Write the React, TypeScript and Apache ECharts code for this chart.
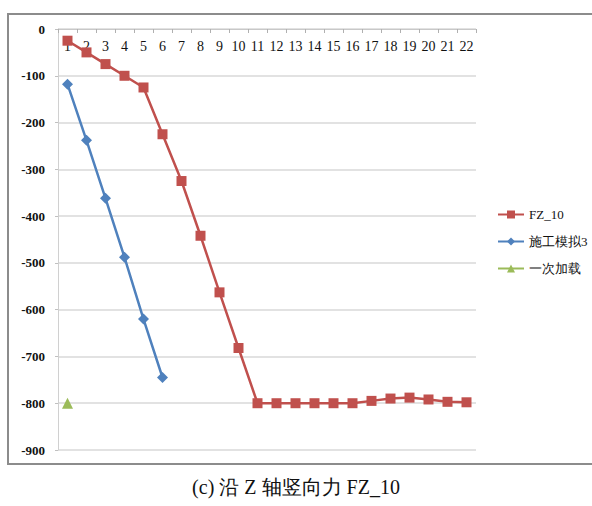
import React, { useEffect, useRef } from "react";
import * as echarts from "echarts";

const categories = ["1","2","3","4","5","6","7","8","9","10","11","12","13","14","15","16","17","18","19","20","21","22"];
const fz10 = [-25, -50, -75, -100, -125, -225, -325, -442, -563, -682, -800, -800, -800, -800, -800, -800, -795, -790, -788, -792, -797, -798];
const sim3 = [-118, -238, -362, -488, -620, -745];
const once = [-800];
const seriesNames = ["FZ_10", "施工模拟3", "一次加载"];
const caption = "(c) 沿 Z 轴竖向力 FZ_10";

const SERIF = "Liberation Serif, Times New Roman, serif";

export default function App() {
  const ref = useRef<HTMLDivElement>(null);
  useEffect(() => {
    if (!ref.current) return;
    const chart = echarts.init(ref.current, undefined, { renderer: "svg" });
    chart.setOption({
      animation: false,
      backgroundColor: "#ffffff",
      textStyle: { fontFamily: SERIF },
      grid: { left: 58, right: 116, top: 29, bottom: 56 },
      graphic: [
        {
          type: "rect",
          shape: { x: 8, y: 14, width: 600, height: 450 },
          style: { fill: "none", stroke: "#8c8c8c", lineWidth: 2 },
          z: -1,
        },
        {
          type: "text",
          left: "center",
          top: 477,
          style: { text: caption, fontFamily: SERIF, fontSize: 20, fill: "#111" },
        },
      ],
      legend: {
        orient: "vertical",
        left: 492,
        top: 203,
        itemWidth: 26,
        itemHeight: 10,
        itemGap: 14,
        textStyle: { fontFamily: SERIF, fontSize: 13, color: "#111" },
        data: seriesNames,
      },
      xAxis: {
        type: "category",
        position: "top",
        data: categories,
        boundaryGap: true,
        axisLine: { show: true, lineStyle: { color: "#c8c8c8", width: 1 } },
        axisTick: { show: true, inside: true, length: 4, lineStyle: { color: "#b0b0b0" } },
        axisLabel: { inside: true, margin: 10, fontFamily: SERIF, fontSize: 14, color: "#111", interval: 0 },
        splitLine: { show: false },
      },
      yAxis: {
        type: "value",
        min: -900,
        max: 0,
        interval: 100,
        axisLine: { show: true, lineStyle: { color: "#d0d0d0" } },
        axisTick: { show: true, length: 3, lineStyle: { color: "#c0c0c0" } },
        axisLabel: { fontFamily: SERIF, fontSize: 13, fontWeight: "bold", color: "#111", margin: 13 },
        splitLine: { show: true, lineStyle: { color: "#d9d9d9", width: 1.5 } },
      },
      series: [
        {
          name: seriesNames[0],
          type: "line",
          data: fz10,
          symbol: "rect",
          symbolSize: 10,
          itemStyle: { color: "#c0504d" },
          lineStyle: { color: "#c0504d", width: 2.5 },
        },
        {
          name: seriesNames[1],
          type: "line",
          data: sim3,
          symbol: "diamond",
          symbolSize: 11,
          itemStyle: { color: "#4f81bd" },
          lineStyle: { color: "#4f81bd", width: 2.5 },
        },
        {
          name: seriesNames[2],
          type: "line",
          data: once,
          symbol: "triangle",
          symbolSize: 11,
          itemStyle: { color: "#9bbb59" },
          lineStyle: { color: "#9bbb59", width: 2.5 },
        },
      ],
    });
    return () => chart.dispose();
  }, []);
  return <div ref={ref} style={{ width: 592, height: 506, position: "absolute", left: 0, top: 0 }} />;
}
